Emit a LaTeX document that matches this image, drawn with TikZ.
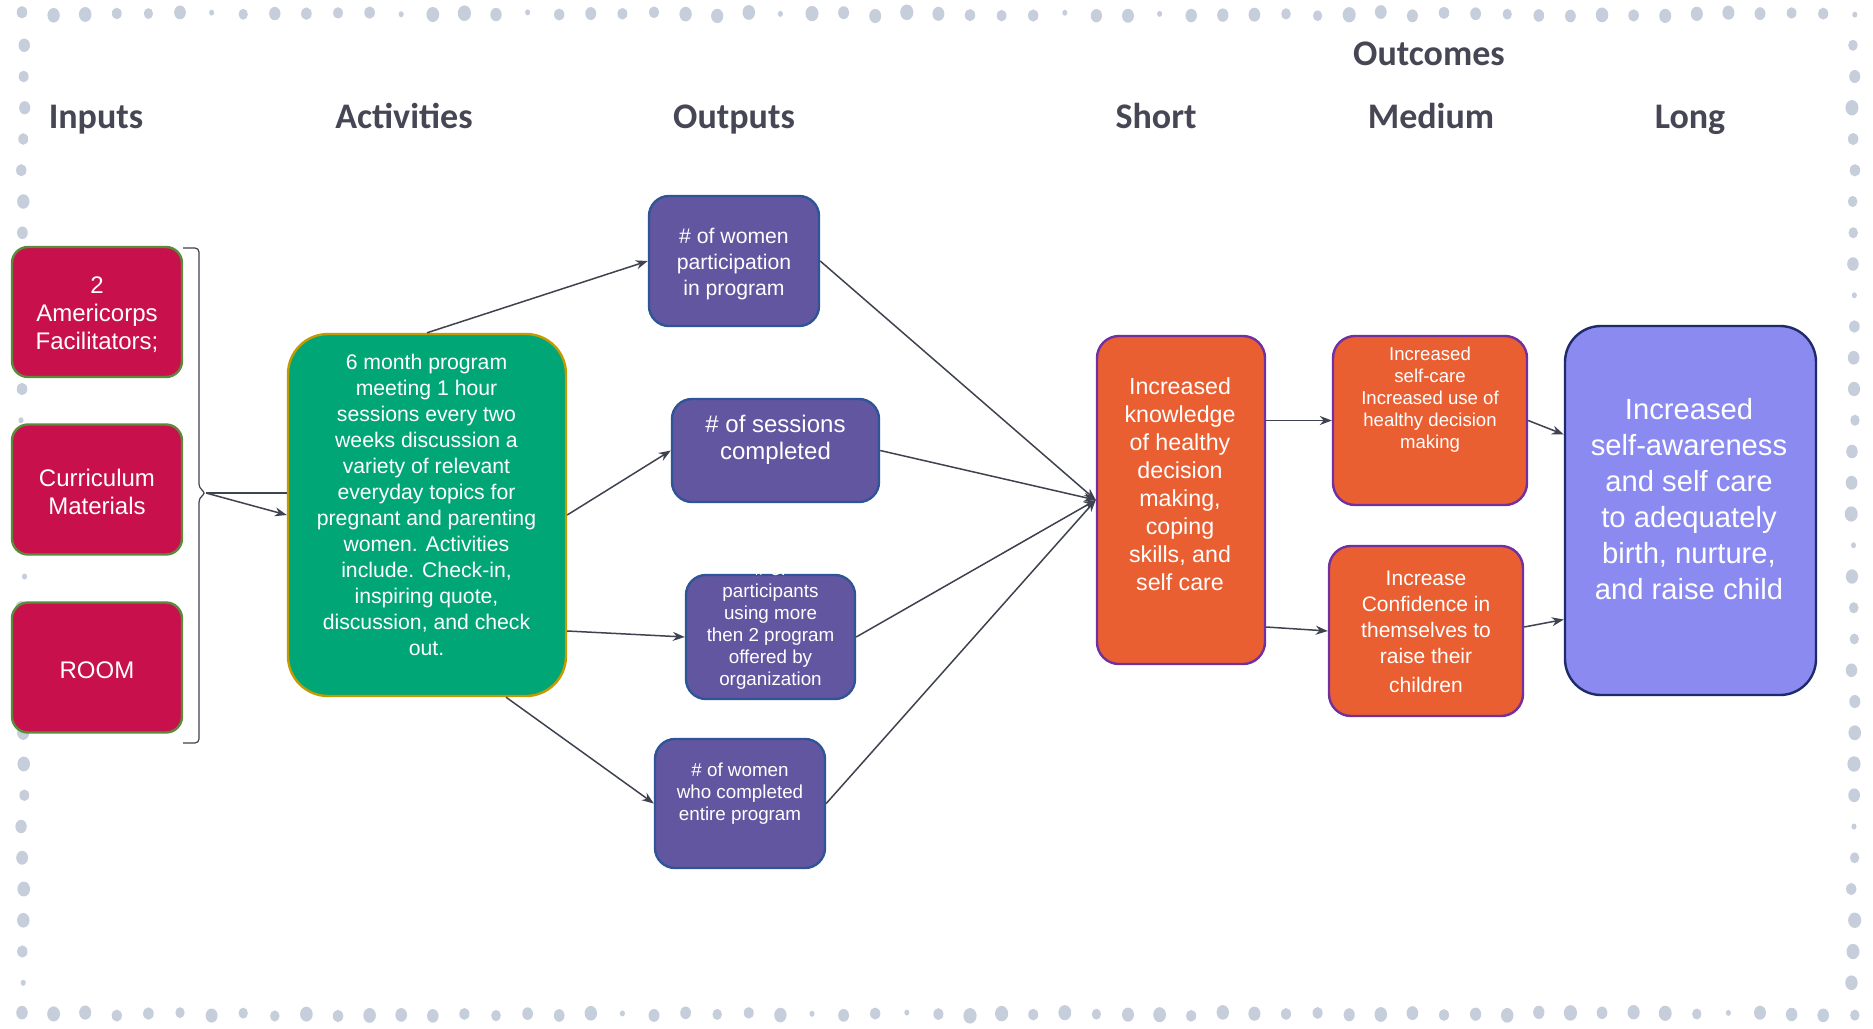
\documentclass[tikz,border=0pt]{standalone}
\usepackage{fontspec}
\setmainfont{Liberation Sans}
\newfontfamily\hfont{Carlito}
\usetikzlibrary{arrows.meta,calc}
\definecolor{dotc}{HTML}{C5CEDA}
\definecolor{incol}{HTML}{C8104C}
\definecolor{inbord}{HTML}{5B8A3C}
\definecolor{actcol}{HTML}{00A676}
\definecolor{actbord}{HTML}{C49A00}
\definecolor{outcol}{HTML}{6356A0}
\definecolor{outbord}{HTML}{2F5597}
\definecolor{orcol}{HTML}{EA5F32}
\definecolor{orbord}{HTML}{7030A0}
\definecolor{longcol}{HTML}{8B8AF0}
\definecolor{longbord}{HTML}{1F2A6B}
\definecolor{arrcol}{HTML}{3F4350}
\definecolor{headcol}{HTML}{464655}
\tikzset{
 lmbox/.style={draw, line width=1.2pt, rounded corners=#1, inner sep=0pt, align=center, text=white},
 inbox/.style={lmbox=8pt, fill=incol, draw=inbord, minimum width=85pt, minimum height=65pt},
 actbox/.style={lmbox=20pt, fill=actcol, draw=actbord},
 outbox/.style={lmbox=10pt, fill=outcol, draw=outbord},
 orbox/.style={lmbox=11pt, fill=orcol, draw=orbord},
 longbox/.style={lmbox=18pt, fill=longcol, draw=longbord},
 btext/.style={text=white, align=center, inner sep=0pt},
 head/.style={font=\hfont\bfseries\fontsize{18pt}{20pt}\selectfont, text=headcol, anchor=base, inner sep=0pt},
 conn/.style={draw=arrcol, line width=0.75pt, -{Stealth[length=6pt,width=4.5pt]}},
 brkline/.style={draw=arrcol, line width=0.6pt},
}
\begin{document}
\begin{tikzpicture}[x=0.5pt,y=-0.5pt]
\useasboundingbox[fill=white] (0,0) rectangle (1873,1028);
% dotted frame
\pgfmathsetseed{42}
\foreach \i in {0,...,58}{
  \pgfmathsetmacro\r{rnd<0.1 ? 1.5 : 2.7+1.2*rnd}
  \pgfmathsetmacro\rx{0.85*\r}
  \pgfmathsetmacro\dy{4*rnd-2}
  \fill[dotc] ({22+\i*31.6},{14+\dy}) ellipse [x radius=\rx pt, y radius=\r pt];
  \pgfmathsetmacro\r{rnd<0.1 ? 1.5 : 2.7+1.2*rnd}
  \pgfmathsetmacro\rx{0.85*\r}
  \pgfmathsetmacro\dy{4*rnd-2}
  \fill[dotc] ({22+\i*31.6},{1014+\dy}) ellipse [x radius=\rx pt, y radius=\r pt];
}
\foreach \j in {1,...,31}{
  \pgfmathsetmacro\r{rnd<0.1 ? 1.5 : 2.7+1.2*rnd}
  \pgfmathsetmacro\rx{0.85*\r}
  \pgfmathsetmacro\dx{4*rnd-2}
  \fill[dotc] ({23+\dx},{14+\j*31.25}) ellipse [x radius=\rx pt, y radius=\r pt];
  \pgfmathsetmacro\r{rnd<0.1 ? 1.5 : 2.7+1.2*rnd}
  \pgfmathsetmacro\rx{0.85*\r}
  \pgfmathsetmacro\dx{4*rnd-2}
  \fill[dotc] ({1853+\dx},{14+\j*31.25}) ellipse [x radius=\rx pt, y radius=\r pt];
}
% headers
\node[head] (hin) at (96,128) {Inputs};
\node[head] (hact) at (404,128) {Activities};
\node[head] (hout) at (734,128) {Outputs};
\node[head] (hoc) at (1429,65) {Outcomes};
\node[head] (hsh) at (1156,128) {Short};
\node[head] (hmed) at (1431,128) {Medium};
\node[head] (hlong) at (1690,128) {Long};
% inputs
\node[inbox] (in1) at (97,312) {};
\node[btext, font=\fontsize{12pt}{14pt}\selectfont] (in1t) at (97,315) {2\\Americorps\\Facilitators;};
\node[inbox] (in2) at (97,489.5) {};
\node[btext, font=\fontsize{12pt}{14pt}\selectfont] (in2t) at (97,492) {Curriculum\\Materials};
\node[inbox] (in3) at (97,667.5) {};
\node[btext, font=\fontsize{12pt}{14pt}\selectfont] (in3t) at (97,670) {ROOM};
% bracket
\coordinate (brtip) at (206,493);
\draw[brkline, rounded corners=2pt] (183,248) -- (199,248) -- (199,488) -- (brtip) -- (199,498) -- (199,743) -- (183,743);
% activities
\node[actbox, minimum width=139pt, minimum height=181pt] (act) at (427,515) {};
\node[btext, font=\fontsize{10.6pt}{13pt}\selectfont] (actt) at (426.5,505) {6 month program\\meeting 1 hour\\sessions every two\\weeks discussion a\\variety of relevant\\everyday topics for\\pregnant and parenting\\women. Activities\\include. Check-in,\\inspiring quote,\\discussion, and check\\out.};
\draw[brkline] (brtip) -- ([yshift=11pt]act.west);
\draw[conn] (brtip) -- (act.west);
% outputs
\node[outbox, minimum width=85pt, minimum height=65pt] (o1) at (734,261) {};
\node[btext, font=\fontsize{10.6pt}{13pt}\selectfont] (o1t) at (734,264) {\# of women\\participation\\in program};
\node[outbox, minimum width=103.5pt, minimum height=51.5pt] (o2) at (775.5,450.5) {};
\node[btext, font=\fontsize{12pt}{13.75pt}\selectfont] (o2t) at (775.5,440) {\# of sessions\\completed};
\node[outbox, minimum width=84.5pt, minimum height=62pt] (o3) at (770.5,637) {};
\node[btext, font=\fontsize{9.4pt}{11pt}\selectfont] (o3t) at (770.5,625.5) {\# of\\participants\\using more\\then 2 program\\offered by\\organization};
\node[outbox, minimum width=85pt, minimum height=64.5pt] (o4) at (740,803.5) {};
\node[btext, font=\fontsize{9.4pt}{11pt}\selectfont] (o4t) at (740,793.5) {\# of women\\who completed\\entire program};
% outcomes
\node[orbox, minimum width=84pt, minimum height=164pt] (sh) at (1181,500) {};
\node[btext, font=\fontsize{11.6pt}{14pt}\selectfont] (sht) at (1180,484) {Increased\\knowledge\\of healthy\\decision\\making,\\coping\\skills, and\\self care};
\node[orbox, minimum width=97pt, minimum height=84.5pt] (m1) at (1430,420.5) {};
\node[btext, font=\fontsize{9.3pt}{11pt}\selectfont] (m1t) at (1430,400) {Increased\\self-care\\Increased use of\\healthy decision\\making};
\node[orbox, minimum width=97pt, minimum height=85pt] (m2) at (1426,631) {};
\node[btext, font=\fontsize{10.5pt}{13pt}\selectfont] (m2t) at (1426,631.5) {Increase\\Confidence in\\themselves to\\raise their\\[1.5pt]children};
\node[longbox, minimum width=125.5pt, minimum height=184.5pt] (lg) at (1690.5,510.5) {};
\node[btext, font=\fontsize{14.6pt}{18pt}\selectfont] (lgt) at (1689,499.5) {Increased\\self-awareness\\and self care\\to adequately\\birth, nurture,\\and raise child};
% connectors
\draw[conn] (act.north) -- (o1.west);
\draw[conn] (act.east) -- (o2.west);
\draw[conn] ([yshift=-58pt]act.east) -- (o3.west);
\draw[conn] ([xshift=39.5pt]act.south) -- (o4.west);
\draw[conn] (o1.east) -- (sh.west);
\draw[conn] (o2.east) -- (sh.west);
\draw[conn] (o3.east) -- (sh.west);
\draw[conn] (o4.east) -- (sh.west);
\draw[conn] (sh.east |- m1.west) -- (m1.west);
\draw[conn] ([yshift=2pt]sh.east |- m2.west) -- (m2.west);
\draw[conn] (m1.east) -- ([yshift=38pt]lg.west);
\draw[conn] ([yshift=2pt]m2.east) -- ([yshift=-54.5pt]lg.west);
\end{tikzpicture}
\end{document}
